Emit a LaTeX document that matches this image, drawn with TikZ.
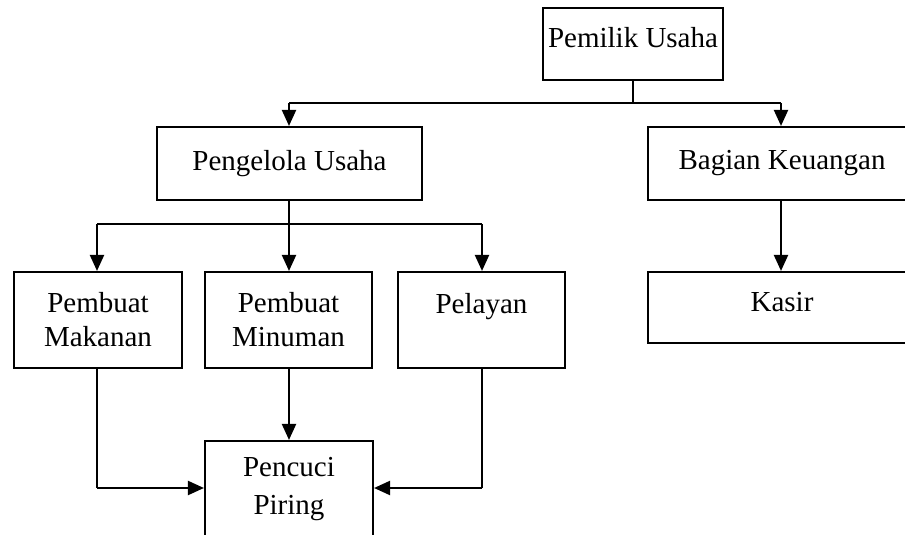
\documentclass[tikz,border=0pt]{standalone}
\usepackage{fontspec}
\setmainfont{Liberation Serif}
\usetikzlibrary{arrows.meta}
\begin{document}
\begin{tikzpicture}[x=0.5pt,y=-0.5pt,
  box/.style={draw,line width=1.05pt,inner sep=0pt,align=center,
    font=\fontsize{14.5pt}{17pt}\selectfont},
  conn/.style={line width=1.05pt},
  arr/.style={line width=1.05pt,-{Triangle[length=8pt,width=7pt]}}]
\useasboundingbox (0,0) rectangle (905,535);
\clip (0,0) rectangle (905,535);
\node[box,minimum width=90pt,minimum height=36pt] (pemilik) at (633,44) {\raisebox{3pt}[\height][\depth]{Pemilik Usaha}};
\node[box,minimum width=132.5pt,minimum height=36.5pt] (pengelola) at (289.5,163.5) {Pengelola Usaha};
\node[box,minimum width=134pt,minimum height=36.5pt] (keuangan) at (782,163.5) {Bagian Keuangan};
\node[box,minimum width=84pt,minimum height=48pt] (makanan) at (98,320) {Pembuat\\Makanan};
\node[box,minimum width=83.5pt,minimum height=48pt] (minuman) at (288.5,320) {Pembuat\\Minuman};
\node[box,minimum width=83.5pt,minimum height=48pt] (pelayan) at (481.5,320) {Pelayan\\\mbox{}};
\node[box,minimum width=134pt,minimum height=35.5pt] (kasir) at (782,307.5) {\raisebox{2.5pt}[\height][\depth]{Kasir}};
\node[box,minimum width=84pt,minimum height=48pt] (pencuci) at (289,489) {Pencuci\\[2pt]Piring};
\coordinate (j1) at (633,103);
\coordinate (j1l) at (289,103);
\coordinate (j1r) at (781,103);
\coordinate (j2) at (289,224);
\coordinate (j2l) at (97,224);
\coordinate (j2r) at (482,224);
\coordinate (k1) at (97,488);
\coordinate (k2) at (482,488);
\draw[conn] (pemilik.south) -- (j1);
\draw[conn] (j1l) -- (j1r);
\draw[arr] (j1l) -- (j1l |- pengelola.north);
\draw[arr] (j1r) -- (j1r |- keuangan.north);
\draw[conn] (pengelola.south -| j2) -- (j2);
\draw[conn] (j2l) -- (j2r);
\draw[arr] (j2l) -- (j2l |- makanan.north);
\draw[arr] (j2) -- (j2 |- minuman.north);
\draw[arr] (j2r) -- (j2r |- pelayan.north);
\draw[arr] (keuangan.south -| j1r) -- (kasir.north -| j1r);
\draw[arr] (j2 |- minuman.south) -- (pencuci.north -| j2);
\draw[conn] (k1 |- makanan.south) -- (k1);
\draw[arr] (k1) -- (k1 -| pencuci.west);
\draw[conn] (k2 |- pelayan.south) -- (k2);
\draw[arr] (k2) -- (k2 -| pencuci.east);
\end{tikzpicture}
\end{document}
